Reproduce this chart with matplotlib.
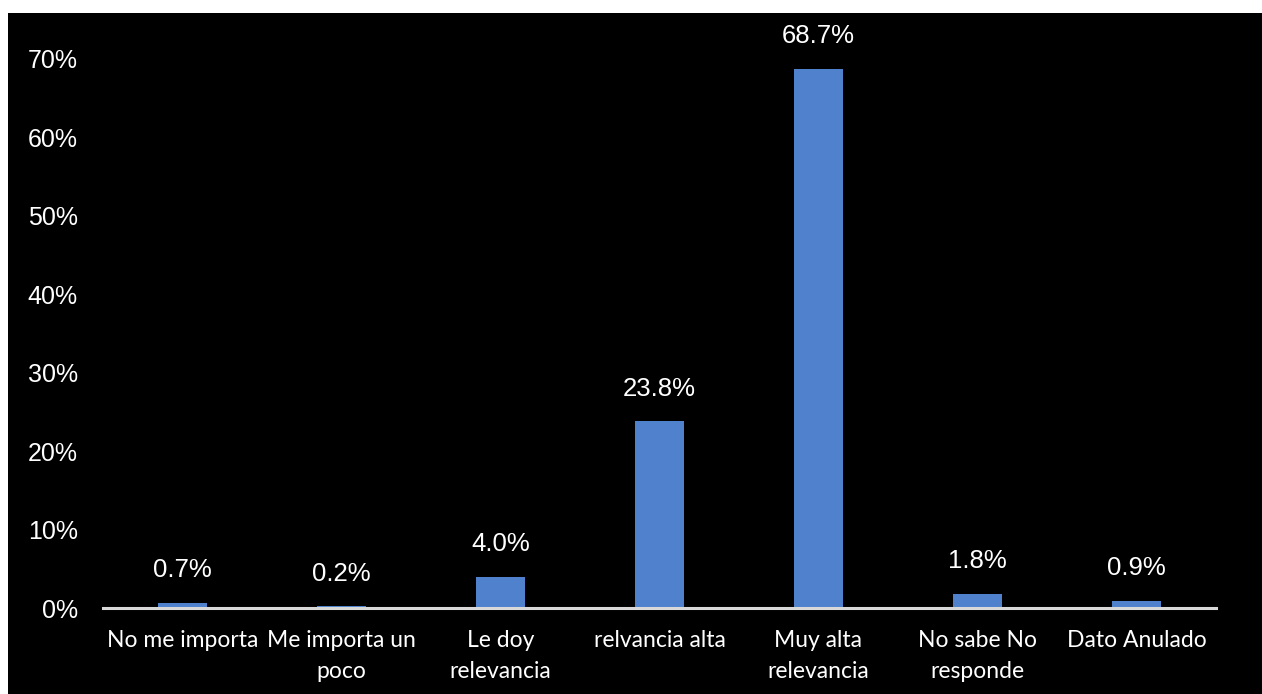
import matplotlib.pyplot as plt
from matplotlib.patches import Rectangle

categorias = ["No me importa", "Me importa un\npoco", "Le doy\nrelevancia", "relvancia alta",
              "Muy alta\nrelevancia", "No sabe No\nresponde", "Dato Anulado"]
valores = [0.7, 0.2, 4.0, 23.8, 68.7, 1.8, 0.9]
ticks_y = [0, 10, 20, 30, 40, 50, 60, 70]

fig = plt.figure(figsize=(12.62, 6.94), dpi=100)
fig.patch.set_facecolor("white")
# fondo negro de la diapositiva
fig.patches.append(Rectangle((8 / 1262, 0), 1, 1 - 13 / 694, transform=fig.transFigure,
                             facecolor="black", edgecolor="none", zorder=-10))

ax = fig.add_axes([103 / 1262, 1 - 608 / 694, (1216 - 103) / 1262, (608 - 59) / 694])
ax.set_facecolor("none")

x = range(len(categorias))
ax.bar(x, valores, width=0.31, color="#4F81CD", zorder=2)
for i, v in enumerate(valores):
    ax.annotate(f"{v:.1f}%", (i, v), xytext=(0, 15), textcoords="offset points",
                ha="center", va="bottom", color="white", fontsize=18.5,
                family="Liberation Sans", annotation_clip=False)

ax.set_xlim(-0.5, len(categorias) - 0.5)
ax.set_ylim(0, 70)
ax.set_yticks(ticks_y)
ax.set_yticklabels([f"{t}%" for t in ticks_y], color="white", fontsize=18,
                   family="Liberation Sans")
ax.set_xticks(list(x))
ax.set_xticklabels(categorias, color="white", fontsize=16.5, family="Lato",
                   linespacing=1.6)
ax.tick_params(axis="y", length=0, pad=18)
ax.tick_params(axis="x", length=0, pad=16)

for s in ["top", "right", "left"]:
    ax.spines[s].set_visible(False)
ax.spines["bottom"].set_color("#D9D9D9")
ax.spines["bottom"].set_linewidth(2.2)
ax.spines["bottom"].set_zorder(3)

fig.savefig("out.png", dpi=100, facecolor=fig.get_facecolor())
